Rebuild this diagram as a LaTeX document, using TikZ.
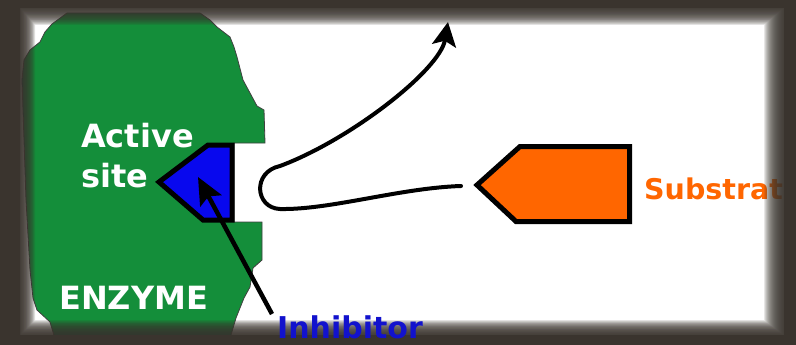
\documentclass[tikz,border=0pt]{standalone}
\usepackage{fontspec}
\setmainfont{DejaVu Sans}
\usetikzlibrary{arrows.meta}
\definecolor{enzymegreen}{RGB}{20,142,58}
\definecolor{siteblue}{RGB}{8,8,238}
\definecolor{substrateorange}{RGB}{255,102,0}
\definecolor{framebrown}{RGB}{58,52,46}
\definecolor{inhibblue}{RGB}{18,18,205}
\begin{document}
\begin{tikzpicture}[x=1pt,y=-1pt,
  lbl/.style={font=\bfseries\fontsize{32}{40}\selectfont, inner sep=0pt, anchor=base west},
  outlined/.style={draw=black, line width=5pt, line join=miter},
  pointer/.style={draw=black, line width=4.5pt}]
\useasboundingbox (0,0) rectangle (796,345);
\fill[white] (0,0) rectangle (796,345);

% enzyme body with the notch of the active site
\draw[fill=enzymegreen, draw=black!75, line width=0.8pt]
  (67,13) -- (200,13) -- (210,20) -- (217,27) -- (230,37) -- (234,47) -- (237,57)
  -- (243,80) -- (250,93) -- (257,106) -- (264,110) -- (265,143) -- (234,143)
  -- (234,222) -- (262,222) -- (262,260) -- (253,268) -- (250,287) -- (244,298)
  -- (236,318) -- (228,345) -- (57,345) -- (50,322) -- (37,310) -- (33,298)
  -- (30,270) -- (26,200) -- (22,80) -- (24,60) -- (30,50) -- (40,42)
  -- (45,32) -- (52,24) -- cycle;

% active site occupied by the inhibitor
\draw[outlined, fill=siteblue]
  (159,182) -- (208,145) -- (232,145) -- (232,220) -- (203,220) -- cycle;

% substrate block
\draw[outlined, fill=substrateorange]
  (477,185) -- (520,146.5) -- (629.5,146.5) -- (629.5,221.5) -- (516,221.5) -- cycle;

% labels (the base anchor of a two-line node sits on its last line)
\node[lbl, text=white, align=left] (site) at (81,187) {Active\\site};
\node[lbl, text=white] (enzyme) at (59,309) {ENZYME};
\node[lbl, text=substrateorange, font=\bfseries\fontsize{28.5}{34}\selectfont] (substrate) at (644,199) {Substrate};

% path of the substrate turned away from the blocked site
\coordinate (turnstart) at (461,186);
\coordinate (turnend) at (448,22);
\draw[pointer, line width=4pt, line cap=round, -{Stealth[length=24pt,width=24pt,inset=5pt]}]
  (turnstart) .. controls (400,188) and (330,210) .. (280,209)
  .. controls (255,208) and (252,172) .. (280,166)
  .. controls (350,140) and (440,70) .. (turnend);

% dark frame: solid outer ring, then stacked translucent rings for a soft inner edge
\fill[framebrown, even odd rule] (0,0) rectangle (796,345) (20,8) rectangle (784,335);
\foreach \i in {1,...,20} {
  \pgfmathsetmacro\t{\i/20}
  \fill[framebrown, opacity=0.12, even odd rule]
    (0,0) rectangle (796,345)
    (20+15*\t, 8+17*\t) rectangle (784-20*\t, 335-15*\t);
}

% inhibitor label and its pointer, over the frame edge
\node[lbl, text=inhibblue, font=\bfseries\fontsize{30}{36}\selectfont] (inhibitor) at (277,338) {Inhibitor};
\coordinate (inhtail) at (272,314);
\coordinate (inhtip) at (198,177);
\draw[pointer, -{Stealth[length=27pt,width=24pt,inset=5pt]}] (inhtail) -- (inhtip);
\end{tikzpicture}
\end{document}
